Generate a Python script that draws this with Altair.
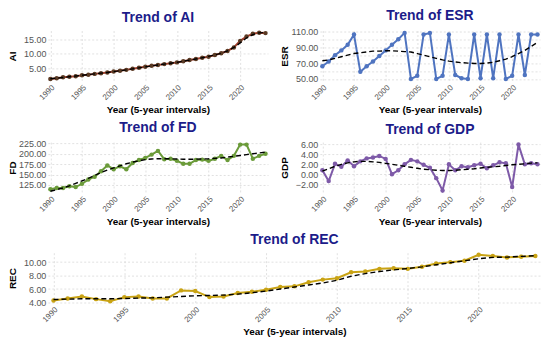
import altair as alt
import pandas as pd

years = list(range(1990, 2025))

ai = [1.2, 1.5, 1.8, 2.0, 2.2, 2.5, 2.7, 3.0, 3.2, 3.5, 3.8, 4.1, 4.4, 4.8, 5.1, 5.5, 5.8, 6.1,
      6.4, 6.7, 7.0, 7.4, 7.8, 8.2, 8.6, 9.0, 9.6, 10.2, 11.0, 12.2, 14.5, 16.0, 17.0, 17.3, 17.2]
ai_trend = [1.3, 1.5, 1.75, 2.0, 2.25, 2.5, 2.75, 3.0, 3.25, 3.5, 3.8, 4.1, 4.4, 4.75, 5.1, 5.45,
            5.8, 6.1, 6.4, 6.7, 7.0, 7.4, 7.8, 8.2, 8.6, 9.1, 9.6, 10.2, 11.0, 12.2, 13.8, 15.5,
            16.7, 17.3, 17.4]

esr = [66, 72, 80, 86, 93, 106, 59, 66, 72, 79, 86, 93, 100, 108, 50, 54, 106, 108, 50, 54,
       106, 55, 51, 50, 106, 51, 106, 51, 106, 50, 54, 106, 55, 106, 106]
esr_trend = [73, 74, 76, 78, 80, 82, 83, 84, 85, 85, 85.5, 85.5, 85, 84.5, 84, 82, 80, 78, 76,
             74, 72.5, 71.5, 70.5, 70, 69.5, 69.5, 70, 71, 73, 75, 78, 82, 86, 91, 96]

fd = [115, 118, 118, 122, 120, 128, 138, 145, 158, 172, 163, 170, 163, 178, 185, 190, 198, 207,
      187, 188, 183, 176, 176, 185, 186, 183, 188, 195, 185, 195, 222, 222, 188, 195, 200]
fd_trend = [110, 114, 118, 123, 129, 135, 141, 148, 155, 161, 166, 171, 176, 180, 183, 186,
            187.5, 188, 188, 188, 187.5, 187, 187, 187, 187.5, 188, 189, 190, 192, 194, 196,
            198, 200, 202, 204]

gdp = [0.8, -1.4, 2.1, 1.5, 2.8, 1.6, 2.6, 3.2, 3.4, 3.7, 3.1, 0.0, 0.8, 2.0, 2.9, 2.6, 1.9,
       1.3, -0.8, -3.3, 2.0, 0.8, 1.6, 1.4, 1.8, 2.1, 1.2, 1.8, 2.4, 2.2, -2.6, 6.0, 2.0, 2.2, 2.0]
gdp_trend = [0.6, 1.1, 1.6, 2.0, 2.3, 2.5, 2.6, 2.6, 2.5, 2.4, 2.2, 2.0, 1.8, 1.6, 1.4, 1.2,
             1.0, 0.9, 0.8, 0.75, 0.75, 0.8, 0.9, 1.0, 1.1, 1.25, 1.4, 1.5, 1.6, 1.75, 1.9, 2.0,
             2.1, 2.25, 2.3]

rec = [4.3, 4.6, 4.9, 4.5, 4.2, 4.8, 4.9, 4.6, 4.6, 5.8, 5.7, 4.8, 4.9, 5.4, 5.6, 5.9, 6.3,
       6.4, 7.0, 7.4, 7.6, 8.5, 8.6, 9.0, 9.1, 9.0, 9.3, 9.8, 10.0, 10.2, 11.1, 10.9, 10.7, 10.8, 10.9]
rec_trend = [4.45, 4.5, 4.55, 4.55, 4.55, 4.6, 4.65, 4.7, 4.8, 4.9, 5.0, 5.05, 5.1, 5.25, 5.45,
             5.7, 6.0, 6.3, 6.6, 6.9, 7.3, 7.9, 8.3, 8.6, 8.85, 9.05, 9.3, 9.6, 9.9, 10.2, 10.5,
             10.7, 10.75, 10.85, 10.95]

x_ticks = [1990, 1995, 2000, 2005, 2010, 2015, 2020]
FONT = "Liberation Sans"


def panel(name, vals, trend, line_color, point_color, ticks, domain, width, height):
    df = pd.DataFrame({"Year": years, "Value": vals, "Trend": trend})
    x = alt.X("Year:Q",
              scale=alt.Scale(domain=[1989.6, 2024.4], nice=False, zero=False),
              axis=alt.Axis(values=x_ticks, format="d", labelAngle=-45, labelAlign="right",
                            labelBaseline="top", title="Year (5-year intervals)"))
    yaxis = alt.Axis(values=ticks, format=".2f", title=name)
    yscale = alt.Scale(domain=domain, nice=False, zero=False)
    base = alt.Chart(df)
    line = base.mark_line(color=line_color, strokeWidth=2).encode(
        x=x, y=alt.Y("Value:Q", scale=yscale, axis=yaxis))
    pts = base.mark_circle(color=point_color, size=20, opacity=1).encode(
        x=x, y=alt.Y("Value:Q", scale=yscale, axis=yaxis))
    tr = base.mark_line(color="black", strokeDash=[5, 3], strokeWidth=1.4).encode(
        x=x, y=alt.Y("Trend:Q", scale=yscale, axis=yaxis))
    return alt.layer(line, pts, tr).properties(
        width=width, height=height,
        title=alt.TitleParams(f"Trend of {name}", fontSize=14, fontWeight="bold",
                              color="#1c1c8a", anchor="middle", offset=4, font=FONT))


H = 51
W = 221
p_ai = panel("AI", ai, ai_trend, "#a3402c", "#5a3a24", [5, 10, 15], [0.4, 18.1], W, H)
p_esr = panel("ESR", esr, esr_trend, "#4f74c0", "#4f74c0",
              [50, 60, 70, 80, 90, 100, 110], [47, 111], W, H)
p_fd = panel("FD", fd, fd_trend, "#6b9b3a", "#6b9b3a",
             [125, 150, 175, 200, 225], [106, 228], W, H)
p_gdp = panel("GDP", gdp, gdp_trend, "#7e5aa8", "#7e5aa8",
              [-2, 0, 2, 4, 6], [-3.8, 6.5], W, H)
p_rec = panel("REC", rec, rec_trend, "#c9a314", "#c9a314",
              [4, 6, 8, 10], [3.85, 11.4], 495, H)

chart = alt.vconcat(
    alt.hconcat(p_ai, p_esr, spacing=10),
    alt.hconcat(p_fd, p_gdp, spacing=10),
    p_rec,
    spacing=6,
).properties(padding=0, background="white").configure_view(stroke=None).configure_axis(
    domain=False, ticks=False, grid=True, gridColor="#d9d9d9", gridDash=[2, 2],
    gridWidth=0.8, labelColor="#555555", labelFontSize=8, labelFont=FONT,
    titleFont=FONT, titleFontSize=10, titleFontWeight="bold", titleColor="black",
    labelPadding=2,
).configure_axisY(minExtent=28, maxExtent=28, titlePadding=2, labelFontSize=9).configure_axisX(
    titlePadding=3)

chart.save("out.html", embed_options={"renderer": "svg", "actions": False})
